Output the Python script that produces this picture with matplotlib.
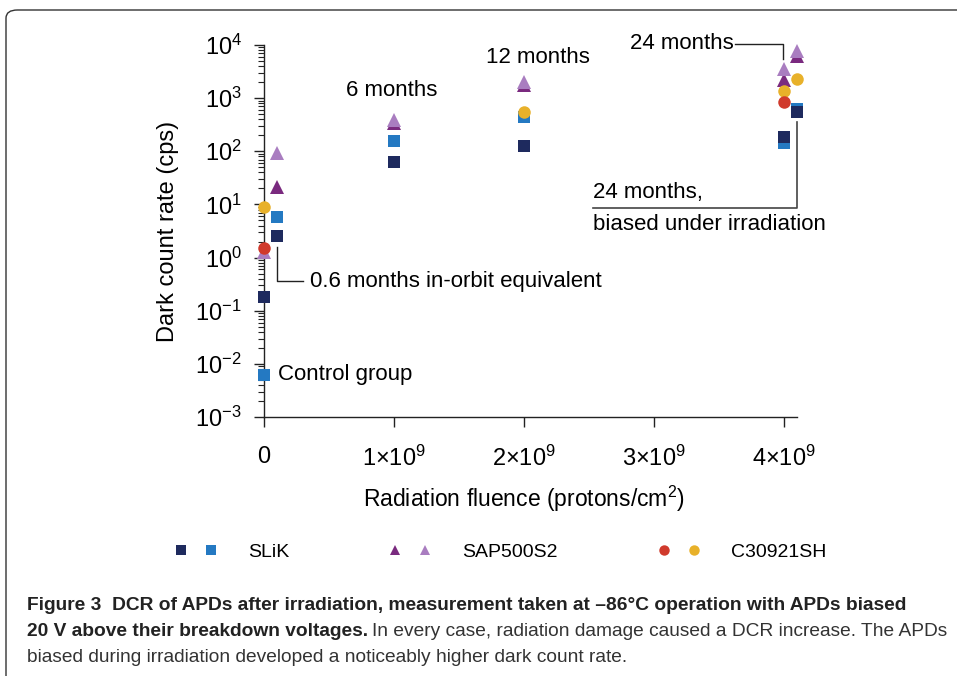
import matplotlib
matplotlib.use("Agg")
import matplotlib.pyplot as plt
from matplotlib.lines import Line2D
from matplotlib.legend_handler import HandlerTuple
from matplotlib.patches import FancyBboxPatch
import matplotlib.ticker as mticker
import numpy as np

plt.rcParams['font.family'] = ['Liberation Sans', 'DejaVu Sans']
plt.rcParams['mathtext.fontset'] = 'custom'
plt.rcParams['mathtext.rm'] = 'Liberation Sans'
plt.rcParams['mathtext.it'] = 'Liberation Sans'
plt.rcParams['mathtext.bf'] = 'Liberation Sans:bold'

# ---- data (fluence in protons/cm^2, DCR in cps) ----
slik_a_x = [0.0, 0.1e9, 1e9, 2e9, 4e9, 4.1e9]
slik_a_y = [0.18, 2.5, 64, 126, 188, 556]
slik_b_x = [0.0, 0.1e9, 1e9, 2e9, 4e9, 4.1e9]
slik_b_y = [0.0062, 5.9, 158, 450, 145, 634]

sap_a_x = [0.1e9, 1e9, 2e9, 4e9, 4.1e9]
sap_a_y = [21, 340, 1800, 2190, 6200]
sap_b_x = [0.0, 0.1e9, 1e9, 2e9, 4e9, 4.1e9]
sap_b_y = [1.27, 92, 380, 2000, 3490, 7800]

c3_a_x = [0.0, 4e9]
c3_a_y = [1.5, 857]
c3_b_x = [0.0, 2e9, 4e9, 4.1e9]
c3_b_y = [8.9, 556, 1360, 2260]

series_names = ["SLiK", "SAP500S2", "C30921SH"]
x_ticks = [0, 1e9, 2e9, 3e9, 4e9]
x_ticklabels = ["0", r"1×10$^{9}$", r"2×10$^{9}$", r"3×10$^{9}$", r"4×10$^{9}$"]

navy = "#1e2a5e"
lblue = "#2479c2"
dpurple = "#7a2a7f"
lpurple = "#a97dc0"
red = "#d03a2c"
yellow = "#e8b12a"

W, H = 957, 676
fig = plt.figure(figsize=(W / 100, H / 100), dpi=100)

# frame
frame = FancyBboxPatch((6 / W, -0.2), 1.2, (H - 10) / H + 0.2,
                       boxstyle="round,pad=0,rounding_size=0.012",
                       transform=fig.transFigure, fill=False,
                       edgecolor="#333333", linewidth=1.0)
fig.patches.append(frame)

ax = fig.add_axes([264 / W, 1 - 417 / H, (797 - 264) / W, (417 - 45) / H])
ax.set_yscale("log")
ax.set_xlim(0, 4.1e9)
ax.set_ylim(1e-3, 1e4)
for s in ["top", "right"]:
    ax.spines[s].set_visible(False)
for s in ["left", "bottom"]:
    ax.spines[s].set_linewidth(1.0)
    ax.spines[s].set_color("#222222")

ms = 8.5
kw = dict(linestyle="none", clip_on=False, markeredgewidth=0)
ax.plot(sap_a_x, sap_a_y, marker="^", color=dpurple, ms=ms + 1, zorder=3, **kw)
ax.plot(sap_b_x, sap_b_y, marker="^", color=lpurple, ms=ms + 1, zorder=3.1, **kw)
ax.plot(slik_b_x, slik_b_y, marker="s", color=lblue, ms=ms, zorder=3.2, **kw)
ax.plot(slik_a_x, slik_a_y, marker="s", color=navy, ms=ms, zorder=3.3, **kw)
ax.plot(c3_b_x, c3_b_y, marker="o", color=yellow, ms=ms + 0.5, zorder=3.4, **kw)
ax.plot(c3_a_x, c3_a_y, marker="o", color=red, ms=ms + 0.5, zorder=3.5, **kw)

ax.set_xticks(x_ticks)
ax.set_xticklabels(x_ticklabels)
ax.yaxis.set_major_locator(mticker.LogLocator(base=10, numticks=20))
ax.yaxis.set_minor_locator(mticker.LogLocator(base=10, subs=np.arange(2, 10), numticks=20))
ax.yaxis.set_minor_formatter(mticker.NullFormatter())
ax.tick_params(axis="both", which="major", direction="out", length=7, width=1.0,
               labelsize=17, colors="#222222", labelcolor="black")
ax.tick_params(axis="y", which="minor", direction="out", length=4, width=0.8, colors="#222222")
ax.tick_params(axis="x", which="major", pad=14)
ax.tick_params(axis="y", which="major", pad=9)

ax.set_ylabel("Dark count rate (cps)", fontsize=17, labelpad=12)
ax.set_xlabel(r"Radiation fluence (protons/cm$^{2}$)", fontsize=16.5, labelpad=9)
ax.xaxis.label.set_x(0.488)

# annotations
tf = 16
ax.text(0.985e9, 10 ** 3.15, "6 months", ha="center", va="center", fontsize=tf)
ax.text(2.11e9, 10 ** 3.77, "12 months", ha="center", va="center", fontsize=tf)
ax.text(3.61e9, 10 ** 4.02, "24 months", ha="right", va="center", fontsize=tf)
ax.plot([3.625e9, 3.99e9, 3.99e9], [10 ** 4.02, 10 ** 4.02, 10 ** 3.74],
        color="#222222", lw=1.0, clip_on=False)
ax.plot([4.1e9, 4.1e9, 2.53e9], [10 ** 2.55, 10 ** 0.94, 10 ** 0.94],
        color="#444444", lw=1.2, clip_on=False)
ax.text(2.53e9, 10 ** 1.03, "24 months,", ha="left", va="bottom", fontsize=tf)
ax.text(2.53e9, 10 ** 0.82, "biased under irradiation", ha="left", va="top", fontsize=tf)
ax.plot([0.1e9, 0.1e9, 0.3e9], [10 ** 0.2, 10 ** -0.45, 10 ** -0.45],
        color="#222222", lw=1.0, clip_on=False)
ax.text(0.355e9, 10 ** -0.45, "0.6 months in-orbit equivalent", ha="left", va="center", fontsize=tf)
ax.text(0.11e9, 10 ** -2.2, "Control group", ha="left", va="center", fontsize=tf)

# legend
h1 = (Line2D([], [], ls="none", marker="s", color=navy, ms=7, mew=0),
      Line2D([], [], ls="none", marker="s", color=lblue, ms=7, mew=0))
h2 = (Line2D([], [], ls="none", marker="^", color=dpurple, ms=7.5, mew=0),
      Line2D([], [], ls="none", marker="^", color=lpurple, ms=7.5, mew=0))
h3 = (Line2D([], [], ls="none", marker="o", color=red, ms=7.5, mew=0),
      Line2D([], [], ls="none", marker="o", color=yellow, ms=7.5, mew=0))
leg = fig.legend([h1, h2, h3], series_names, ncol=3, frameon=False,
                 handler_map={tuple: HandlerTuple(ndivide=None, pad=0.08)},
                 handlelength=3.0, handletextpad=1.17, columnspacing=4.72,
                 fontsize=14, loc="center left",
                 bbox_to_anchor=(167 / W, 1 - 552 / H), borderaxespad=0, borderpad=0)

# caption
cap_font = ['Liberation Sans Narrow', 'Liberation Sans', 'DejaVu Sans']
cs = 13.8
fig.text(27 / W, 1 - 606 / H,
         "Figure 3  DCR of APDs after irradiation, measurement taken at \u201386\u00b0C operation with APDs biased",
         fontsize=cs, fontweight="bold", family=cap_font, color="#222222", va="center")
t2a = fig.text(27 / W, 1 - 632 / H, "20 V above their breakdown voltages.",
               fontsize=cs, fontweight="bold", family=cap_font, color="#222222", va="center")
fig.canvas.draw()
bb = t2a.get_window_extent()
fig.text(bb.x1 / W + 4 / W, 1 - 632 / H,
         "In every case, radiation damage caused a DCR increase. The APDs",
         fontsize=cs, family=cap_font, color="#333333", va="center")
fig.text(27 / W, 1 - 658 / H,
         "biased during irradiation developed a noticeably higher dark count rate.",
         fontsize=cs, family=cap_font, color="#333333", va="center")

fig.savefig("out.png", dpi=100)
